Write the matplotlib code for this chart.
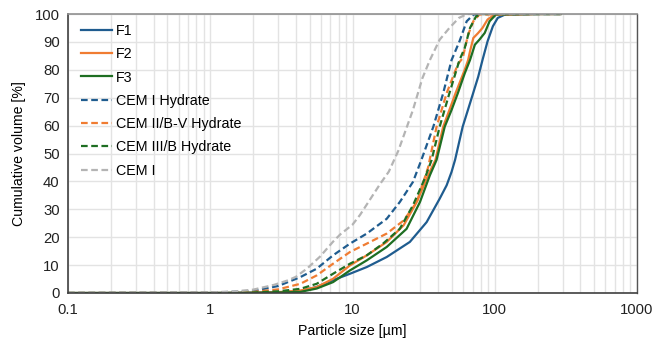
import matplotlib
matplotlib.use("Agg")
import matplotlib.pyplot as plt
from matplotlib.ticker import LogLocator, FixedLocator, FixedFormatter, NullFormatter

plt.rcParams['font.family'] = ['Liberation Sans', 'DejaVu Sans']
plt.rcParams['font.size'] = 10.5

# particle size [um] / cumulative volume [%]
f1_x = [0.1, 1, 2, 3, 4.3, 5.6, 7.3, 9.6, 12.6, 17.4, 25.3, 33.2, 41, 45.9, 49.7, 52.6, 59.5, 67, 76.5, 82, 89, 97, 105, 118, 200, 290]
f1_y = [0, 0, 0.1, 0.2, 0.6, 2.2, 4.6, 6.9, 9.3, 12.9, 18.3, 25.4, 33.8, 38.6, 43.4, 47.7, 59.6, 68, 77.5, 83.5, 90.2, 95.6, 98.6, 99.8, 100, 100]

f2_x = [0.1, 1, 2, 3, 4.3, 5.6, 7.3, 9.6, 12.6, 17.4, 22.9, 28.3, 34, 38.3, 43.4, 48, 53, 61.5, 65, 67, 70.7, 76.5, 82, 89, 100, 200, 290]
f2_y = [0, 0, 0.1, 0.3, 0.9, 2.1, 5.1, 9.9, 13.5, 18.3, 24.3, 32.6, 42.2, 47.7, 59.6, 65.6, 71.6, 80, 83.5, 86.6, 91.4, 93.2, 95, 98, 99.8, 100, 100]

f3_x = [0.1, 1, 2, 3, 4.3, 5.6, 7.3, 9.6, 12.6, 17.4, 24, 29.8, 35, 39, 44.5, 49.7, 55, 61.5, 67, 72.5, 78, 85, 92, 102, 200, 290]
f3_y = [0, 0, 0.1, 0.2, 0.4, 1.6, 3.9, 8.1, 11.7, 16.5, 23, 32.6, 42.2, 47.7, 59.6, 65.6, 71.6, 78.7, 83.5, 89, 90.8, 93.2, 97.4, 99.8, 100, 100]

cem1h_x = [0.1, 1, 2, 3, 4.3, 5.6, 7.3, 9.6, 12.6, 17.4, 21.5, 26.6, 30.5, 37, 43.4, 49.7, 56.5, 63.5, 71, 80, 200, 290]
cem1h_y = [0, 0.1, 0.7, 2.5, 5.7, 8.7, 13.5, 17.7, 21.3, 26.6, 32.6, 39.8, 47.7, 59.6, 71.6, 83.5, 90.2, 97.4, 99.8, 100, 100, 100]

cem2h_x = [0.1, 1, 2, 3, 4.3, 5.6, 7.3, 9.6, 12.6, 17.4, 22.9, 28.3, 34, 39, 45.9, 55, 59.5, 65, 70.7, 78, 200, 290]
cem2h_y = [0, 0.05, 0.4, 1.3, 3.3, 6.3, 10.5, 14.7, 17.7, 21.3, 26, 32.6, 45, 59.6, 71.6, 82, 84.2, 92.6, 97.4, 99.8, 100, 100]

cem3h_x = [0.1, 1, 2, 3, 4.3, 5.6, 7.3, 9.6, 12.6, 16.4, 21.5, 26.6, 32.2, 36, 41, 48, 56.5, 61.5, 67, 74, 82, 200, 290]
cem3h_y = [0, 0, 0.2, 0.6, 1.5, 3.3, 6.9, 10.5, 13.5, 17.7, 23, 31.4, 41, 47.7, 59.6, 71.6, 83.5, 87.8, 95, 99.2, 100, 100, 100]

cem1_x = [0.1, 1, 1.5, 2, 2.8, 3.5, 4, 4.8, 5.9, 7.3, 8.2, 10, 11.3, 15.6, 18, 21, 26.6, 31, 35, 41, 48, 56, 64, 200, 290]
cem1_y = [0, 0.2, 0.6, 1.2, 2.9, 4.5, 5.8, 8.8, 13, 18.4, 21, 24.5, 28, 39, 43.5, 51, 65.6, 77, 83.5, 90.8, 95, 98.6, 100, 100, 100]

blue = '#1f5c8f'
orange = '#f07c32'
green = '#1e6e22'
gray = '#b4b4b4'

fig = plt.figure(figsize=(6.66, 3.44), dpi=100)
ax = fig.add_axes([68 / 666, 1 - 293 / 344, (637 - 68) / 666, (293 - 14) / 344])

dash = (0, (3, 1.6))
ax.plot(f1_x, f1_y, color=blue, lw=1.6, label='F1')
ax.plot(f2_x, f2_y, color=orange, lw=1.6, label='F2')
ax.plot(f3_x, f3_y, color=green, lw=1.6, label='F3')
ax.plot(cem1h_x, cem1h_y, color=blue, lw=1.6, ls=dash, label='CEM I Hydrate')
ax.plot(cem2h_x, cem2h_y, color=orange, lw=1.6, ls=dash, label='CEM II/B-V Hydrate')
ax.plot(cem3h_x, cem3h_y, color=green, lw=1.6, ls=dash, label='CEM III/B Hydrate')
ax.plot(cem1_x, cem1_y, color=gray, lw=1.6, ls=dash, label='CEM I')

ax.set_xscale('log')
ax.set_xlim(0.1, 1000)
ax.set_ylim(0, 100)
ax.xaxis.set_major_locator(FixedLocator([0.1, 1, 10, 100, 1000]))
ax.xaxis.set_major_formatter(FixedFormatter(['0.1', '1', '10', '100', '1000']))
ax.xaxis.set_minor_locator(LogLocator(base=10, subs=range(2, 10)))
ax.xaxis.set_minor_formatter(NullFormatter())
ax.set_yticks(range(0, 101, 10))

ax.grid(True, which='both', axis='x', color='#e3e3e3', lw=1.0)
ax.grid(True, which='major', axis='y', color='#e3e3e3', lw=1.0)
ax.set_axisbelow(True)
ax.tick_params(which='both', length=0, labelsize=10.7, colors='#222222')
ax.tick_params(axis='x', pad=7.5)
ax.tick_params(axis='y', pad=6)

for side in ['left', 'bottom']:
    ax.spines[side].set_color('#404040')
    ax.spines[side].set_linewidth(1.2)
ax.spines['top'].set_color('#909090')
ax.spines['right'].set_color('#555555')
ax.spines['top'].set_linewidth(1.2)
ax.spines['right'].set_linewidth(1.0)

ax.set_xlabel('Particle size [µm]', fontsize=10.2, labelpad=5)
ax.set_ylabel('Cumulative volume [%]', fontsize=10.2, labelpad=6)

leg = ax.legend(loc='upper left', frameon=False, fontsize=10.3, handlelength=2.2,
                handletextpad=0.28, labelspacing=0.65, borderaxespad=0.0,
                bbox_to_anchor=(0.012, 0.985))

fig.savefig('out.png', dpi=100)
